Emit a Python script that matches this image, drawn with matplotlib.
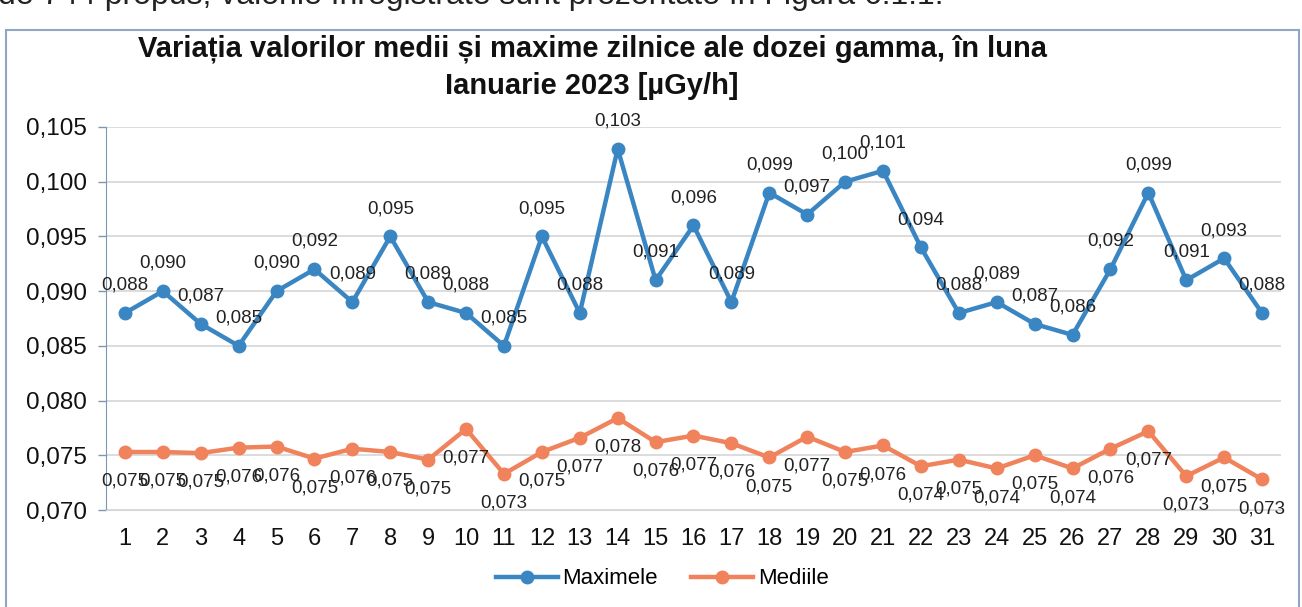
import matplotlib.pyplot as plt
from matplotlib.patches import Rectangle
from matplotlib.ticker import FuncFormatter

# ==========================
# Date
# ==========================
zile = list(range(1, 32))
maxime = [0.088, 0.090, 0.087, 0.085, 0.090, 0.092, 0.089, 0.095, 0.089, 0.088,
          0.085, 0.095, 0.088, 0.103, 0.091, 0.096, 0.089, 0.099, 0.097, 0.100,
          0.101, 0.094, 0.088, 0.089, 0.087, 0.086, 0.092, 0.099, 0.091, 0.093,
          0.088]
medii = [0.0753, 0.0753, 0.0752, 0.0757, 0.0758, 0.0747, 0.0756, 0.0753, 0.0746, 0.0774,
         0.0733, 0.0753, 0.0766, 0.0784, 0.0762, 0.0768, 0.0761, 0.0748, 0.0767, 0.0753,
         0.0759, 0.0740, 0.0746, 0.0738, 0.0750, 0.0738, 0.0756, 0.0772, 0.0731, 0.0748,
         0.0728]
y_ticks = [0.070, 0.075, 0.080, 0.085, 0.090, 0.095, 0.100, 0.105]

titlu = "Variația valorilor medii și maxime zilnice ale dozei gamma, în luna\nIanuarie 2023 [µGy/h]"
text_sus = "de 744 propus, valorile înregistrate sunt prezentate în Figura 6.1.1."

albastru = "#3a86c3"
portocaliu = "#f0825c"

plt.rcParams['font.family'] = ['Liberation Sans', 'DejaVu Sans']

W, H = 1302, 607
fig = plt.figure(figsize=(W / 100, H / 100), dpi=100)
fig.patch.set_facecolor("white")

# chenarul din document
fig.patches.append(Rectangle((6 / W, -0.05), (1299 - 6) / W, 1 - 30 / H + 0.05,
                             transform=fig.transFigure, fill=False,
                             edgecolor="#8ea7c2", linewidth=1.5))
fig.text(-2 / W, 1 + 4 / H, text_sus, fontsize=23, ha="left", va="center",
         color="#222222")

ax = fig.add_axes([106 / W, (H - 510) / H, 1175 / W, 383 / H])

ax.plot(zile, maxime, color=albastru, linewidth=3.2, marker="o", markersize=9,
        label="Maximele", zorder=3)
ax.plot(zile, medii, color=portocaliu, linewidth=3.2, marker="o", markersize=9,
        label="Mediile", zorder=3)

fmt = lambda v: f"{v:.3f}".replace(".", ",")
for x, v in zip(zile, maxime):
    ax.annotate(fmt(v), (x, v), xytext=(0, 20), textcoords="offset points",
                ha="center", va="center", fontsize=13.5, color="#222222", zorder=4)
for x, v in zip(zile, medii):
    ax.annotate(fmt(v), (x, v), xytext=(0, -21), textcoords="offset points",
                ha="center", va="center", fontsize=13.5, color="#222222", zorder=4)

ax.set_xlim(0.5, 31.5)
ax.set_ylim(0.070, 0.105)
ax.set_yticks(y_ticks)
ax.yaxis.set_major_formatter(FuncFormatter(lambda v, p: fmt(v)))
ax.set_xticks(zile)
ax.tick_params(axis="x", length=0, labelsize=17, pad=13, colors="#111111")
ax.tick_params(axis="y", length=6, width=1, color="#8096b0", labelsize=17.5,
               pad=8, labelcolor="#111111")

ax.grid(axis="y", color="#d6d6d6", linewidth=1.2)
ax.set_axisbelow(True)
for s in ["top", "right"]:
    ax.spines[s].set_visible(False)
ax.spines["bottom"].set_color("#d6d6d6")
ax.spines["left"].set_color("#8096b0")

fig.text(592 / W, 1 - 67 / H, titlu, ha="center", va="center", fontsize=21,
         fontweight="bold", linespacing=1.4, color="#111111")

fig.legend(loc="center", bbox_to_anchor=(662 / W, 1 - 579 / H), ncol=2,
           frameon=False, fontsize=16, handlelength=2.8, columnspacing=1.5,
           handletextpad=0.2)

plt.savefig("out.png", dpi=100)
